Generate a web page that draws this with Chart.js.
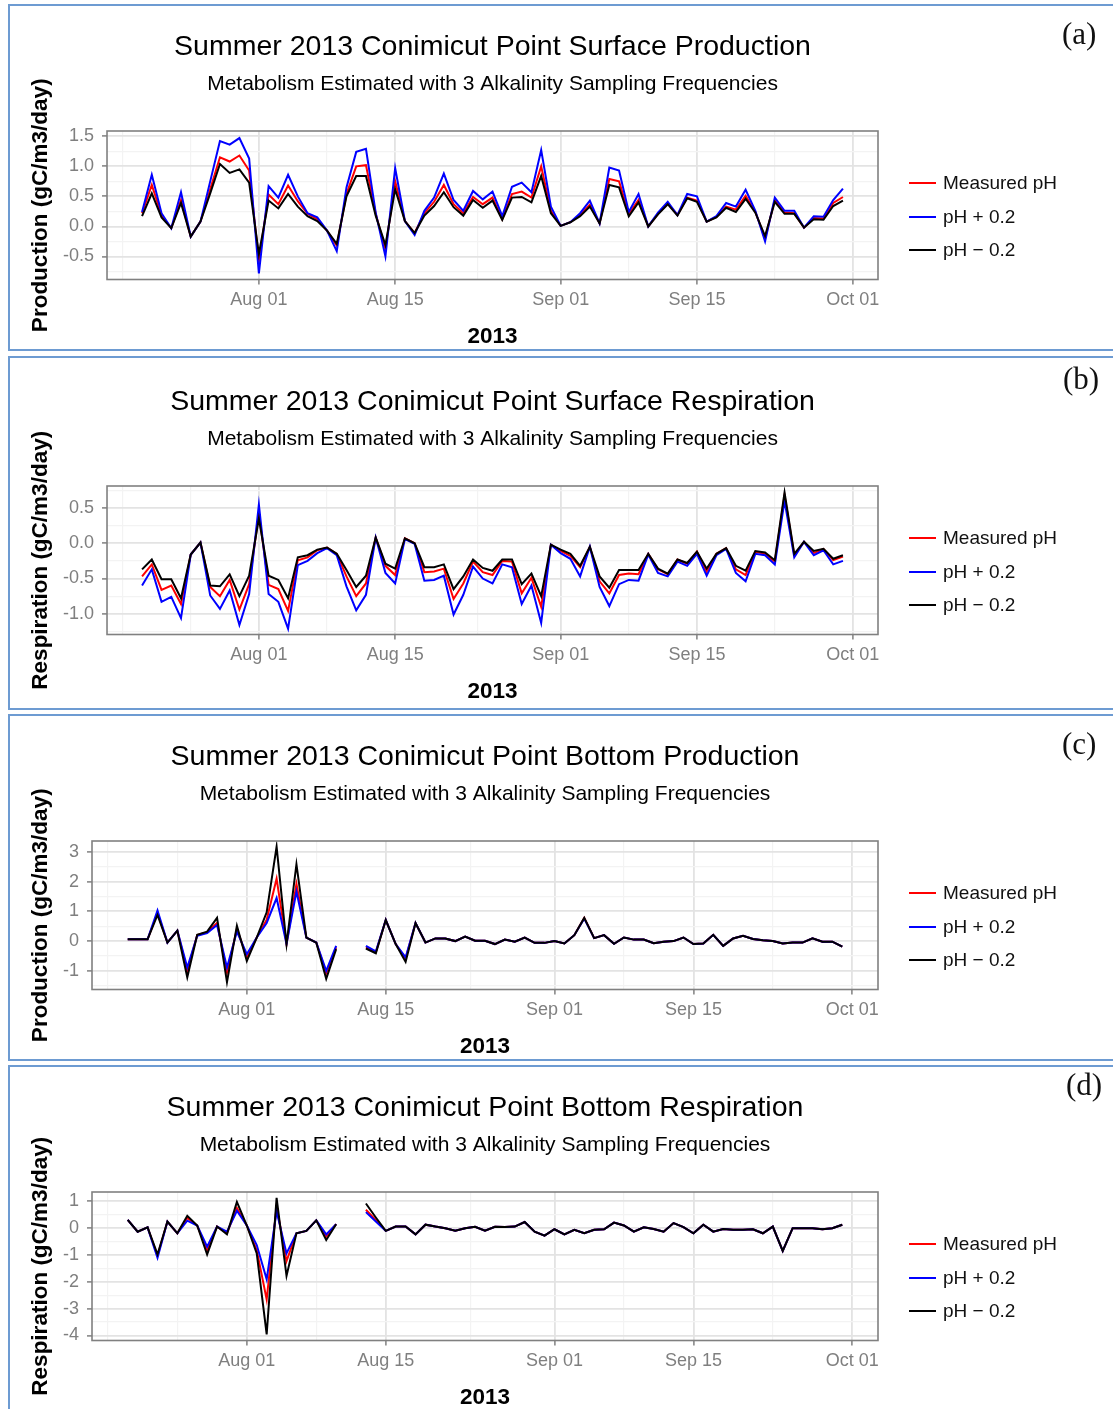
<!DOCTYPE html>
<html>
<head>
<meta charset="utf-8">
<title>Summer 2013 Conimicut Point Metabolism</title>
<script src="https://cdn.jsdelivr.net/npm/chart.js@4.4.1/dist/chart.umd.min.js"></script>
<style>
  html, body { margin: 0; padding: 0; background: #ffffff; }
  body { position: relative; width: 1113px; height: 1409px; overflow: hidden;
         font-family: 'Liberation Sans', Arial, Helvetica, sans-serif; }
  .frame { position: absolute; left: 8px; width: 1125px; border: 2px solid #6d9bd2; box-sizing: border-box; }
  canvas.plot { position: absolute; left: 10px; }
  .legend { position: absolute; left: 909px; width: 200px; }
  .legend .row { position: absolute; left: 0; height: 24px; display: flex; align-items: center; }
  .legend .key { display: inline-block; width: 27px; height: 2px; margin-right: 7px; }
  .legend .txt { font-size: 19px; color: #111; white-space: nowrap; }
  .tag { position: absolute; font-family: 'Liberation Serif', 'DejaVu Serif', serif; font-size: 31px;
         line-height: 31px; color: #111; }
</style>
</head>
<body>
<div class="frame" style="top:4px;height:347px"></div>
<div class="frame" style="top:356px;height:354px"></div>
<div class="frame" style="top:714px;height:347px"></div>
<div class="frame" style="top:1065px;height:400px"></div>

<canvas class="plot" id="chartA" width="1103" height="344" style="top:6px"></canvas>
<canvas class="plot" id="chartB" width="1103" height="344" style="top:361px"></canvas>
<canvas class="plot" id="chartC" width="1103" height="344" style="top:716px"></canvas>
<canvas class="plot" id="chartD" width="1103" height="344" style="top:1067px"></canvas>

<div class="tag" style="left:1062px;top:18px">(a)</div>
<div class="tag" style="left:1063px;top:363px">(b)</div>
<div class="tag" style="left:1062px;top:728px">(c)</div>
<div class="tag" style="left:1066px;top:1069px">(d)</div>

<script>
// ---- Daily estimates, 20 Jul 2013 (day 0) to 30 Sep 2013 (day 72) ----
const firstDay = '2013-07-20';

// x-axis breaks (days since 20 Jul)
const dateBreaks = [12, 26, 43, 57, 73];
const dateLabels = ['Aug 01', 'Aug 15', 'Sep 01', 'Sep 15', 'Oct 01'];
const dateMinorBreaks = [-2, 5, 19, 34.5, 50, 65];

const seriesNames = ['Measured pH', 'pH + 0.2', 'pH \u2212 0.2'];
const seriesColors = ['#ff0000', '#0000ff', '#000000'];

// (a) Surface production
const surfProdMeasured = [0.22,0.69,0.19,-0.03,0.44,-0.17,0.08,0.62,1.15,1.08,1.18,0.93,-0.57,0.53,0.37,0.68,0.42,0.21,0.12,-0.07,-0.32,0.54,1.00,1.02,0.21,-0.38,0.75,0.09,-0.11,0.22,0.41,0.69,0.37,0.22,0.49,0.37,0.48,0.12,0.54,0.58,0.48,1.00,0.26,0.01,0.07,0.19,0.36,0.05,0.79,0.75,0.21,0.44,0.00,0.21,0.38,0.19,0.48,0.43,0.08,0.16,0.33,0.28,0.51,0.24,-0.20,0.44,0.23,0.22,-0.02,0.14,0.13,0.39,0.49];
const surfProdPlus     = [0.24,0.86,0.22,-0.03,0.57,-0.17,0.08,0.75,1.42,1.36,1.47,1.13,-0.78,0.67,0.48,0.86,0.50,0.22,0.15,-0.07,-0.41,0.65,1.24,1.29,0.23,-0.50,0.97,0.09,-0.14,0.26,0.48,0.88,0.44,0.26,0.59,0.45,0.58,0.17,0.66,0.73,0.57,1.27,0.33,0.01,0.07,0.22,0.43,0.05,0.98,0.93,0.24,0.54,0.00,0.23,0.41,0.19,0.54,0.50,0.08,0.17,0.39,0.33,0.61,0.26,-0.25,0.48,0.26,0.26,-0.02,0.17,0.16,0.44,0.63];
const surfProdMinus    = [0.17,0.55,0.15,-0.03,0.39,-0.17,0.08,0.55,1.04,0.89,0.95,0.73,-0.46,0.43,0.30,0.54,0.33,0.17,0.09,-0.07,-0.29,0.50,0.84,0.84,0.18,-0.31,0.62,0.09,-0.11,0.18,0.34,0.57,0.32,0.18,0.44,0.31,0.43,0.11,0.48,0.49,0.40,0.84,0.22,0.01,0.07,0.17,0.33,0.05,0.69,0.65,0.17,0.40,0.00,0.20,0.37,0.18,0.47,0.41,0.08,0.15,0.31,0.24,0.46,0.23,-0.16,0.41,0.21,0.21,-0.02,0.12,0.11,0.34,0.43];

// (b) Surface respiration
const surfRespMeasured = [-0.47,-0.30,-0.66,-0.60,-0.86,-0.16,0.01,-0.62,-0.75,-0.52,-0.94,-0.58,0.42,-0.59,-0.65,-0.96,-0.24,-0.20,-0.10,-0.06,-0.15,-0.47,-0.75,-0.57,0.08,-0.32,-0.45,0.07,0.00,-0.41,-0.40,-0.36,-0.79,-0.57,-0.26,-0.41,-0.45,-0.25,-0.26,-0.71,-0.49,-0.90,-0.02,-0.11,-0.18,-0.34,-0.05,-0.54,-0.71,-0.45,-0.43,-0.44,-0.15,-0.37,-0.44,-0.23,-0.29,-0.12,-0.40,-0.15,-0.07,-0.37,-0.45,-0.12,-0.15,-0.26,0.68,-0.17,0.02,-0.14,-0.08,-0.24,-0.19];
const surfRespPlus     = [-0.60,-0.37,-0.83,-0.76,-1.06,-0.16,0.01,-0.74,-0.93,-0.67,-1.16,-0.72,0.55,-0.72,-0.83,-1.21,-0.31,-0.25,-0.14,-0.07,-0.17,-0.61,-0.95,-0.73,0.08,-0.42,-0.57,0.06,-0.01,-0.53,-0.52,-0.46,-1.01,-0.73,-0.33,-0.50,-0.57,-0.30,-0.34,-0.86,-0.60,-1.13,-0.02,-0.14,-0.22,-0.47,-0.05,-0.62,-0.89,-0.58,-0.52,-0.53,-0.16,-0.42,-0.47,-0.26,-0.32,-0.15,-0.46,-0.17,-0.08,-0.42,-0.54,-0.15,-0.17,-0.30,0.60,-0.20,0.02,-0.17,-0.10,-0.30,-0.25];
const surfRespMinus    = [-0.37,-0.23,-0.51,-0.51,-0.78,-0.16,0.01,-0.60,-0.61,-0.44,-0.75,-0.46,0.35,-0.46,-0.52,-0.78,-0.20,-0.17,-0.09,-0.06,-0.15,-0.38,-0.62,-0.46,0.08,-0.29,-0.36,0.07,0.00,-0.34,-0.34,-0.30,-0.65,-0.47,-0.23,-0.35,-0.39,-0.23,-0.23,-0.58,-0.43,-0.75,-0.02,-0.09,-0.15,-0.32,-0.05,-0.47,-0.63,-0.38,-0.38,-0.38,-0.15,-0.36,-0.43,-0.23,-0.28,-0.12,-0.36,-0.15,-0.07,-0.32,-0.39,-0.11,-0.13,-0.24,0.72,-0.15,0.02,-0.11,-0.08,-0.22,-0.17];

// (c) Bottom production (no estimates on 11-12 Aug)
const botProdMeasured = [0.06,0.06,0.06,0.95,-0.05,0.35,-1.00,0.20,0.30,0.61,-1.06,0.41,-0.55,0.12,0.72,2.10,-0.10,1.93,0.12,-0.05,-1.08,-0.21,null,null,-0.21,-0.38,0.71,-0.10,-0.59,0.61,-0.05,0.09,0.09,0.00,0.15,0.01,0.01,-0.10,0.05,-0.02,0.12,-0.06,-0.06,0.00,-0.08,0.20,0.78,0.10,0.20,-0.09,0.12,0.05,0.05,-0.07,-0.02,0.00,0.12,-0.10,-0.08,0.21,-0.16,0.09,0.18,0.07,0.03,0.00,-0.08,-0.05,-0.05,0.09,-0.02,-0.02,-0.19];
const botProdPlus     = [0.06,0.06,0.06,1.03,-0.05,0.35,-0.89,0.18,0.27,0.54,-0.89,0.32,-0.44,0.12,0.61,1.45,-0.10,1.67,0.12,-0.05,-1.00,-0.16,null,null,-0.16,-0.35,0.71,-0.10,-0.55,0.61,-0.05,0.09,0.09,0.00,0.15,0.01,0.01,-0.10,0.05,-0.02,0.12,-0.06,-0.06,0.00,-0.08,0.20,0.76,0.10,0.20,-0.09,0.12,0.05,0.05,-0.07,-0.02,0.00,0.12,-0.10,-0.08,0.21,-0.16,0.09,0.18,0.07,0.03,0.00,-0.08,-0.05,-0.05,0.09,-0.02,-0.02,-0.19];
const botProdMinus    = [0.06,0.06,0.06,0.88,-0.05,0.35,-1.22,0.21,0.32,0.78,-1.38,0.52,-0.67,0.12,0.97,3.18,-0.10,2.59,0.12,-0.05,-1.27,-0.27,null,null,-0.25,-0.41,0.71,-0.10,-0.70,0.61,-0.05,0.09,0.09,0.00,0.15,0.01,0.01,-0.10,0.05,-0.02,0.12,-0.06,-0.06,0.00,-0.08,0.20,0.78,0.10,0.20,-0.09,0.12,0.05,0.05,-0.07,-0.02,0.00,0.12,-0.10,-0.08,0.21,-0.16,0.09,0.18,0.07,0.03,0.00,-0.08,-0.05,-0.05,0.09,-0.02,-0.02,-0.19];

// (d) Bottom respiration (no estimates on 11-12 Aug)
const botRespMeasured = [0.31,-0.13,0.03,-1.03,0.25,-0.19,0.38,0.10,-0.82,0.06,-0.18,0.75,0.10,-0.82,-2.66,0.82,-1.23,-0.19,-0.10,0.29,-0.31,0.15,null,null,0.69,0.30,-0.10,0.06,0.06,-0.23,0.13,0.06,0.00,-0.09,0.00,0.05,-0.09,0.05,0.04,0.06,0.23,-0.13,-0.28,-0.04,-0.23,-0.06,-0.19,-0.06,-0.04,0.21,0.10,-0.13,0.03,-0.03,-0.13,0.19,0.04,-0.19,0.13,-0.13,-0.03,-0.06,-0.06,-0.04,-0.19,0.06,-0.85,0.00,0.00,0.00,-0.04,0.00,0.13];
const botRespPlus     = [0.31,-0.13,0.03,-1.10,0.25,-0.19,0.28,0.10,-0.69,0.06,-0.13,0.65,0.10,-0.63,-1.91,0.63,-0.94,-0.19,-0.10,0.29,-0.23,0.15,null,null,0.60,0.25,-0.10,0.06,0.06,-0.23,0.13,0.06,0.00,-0.09,0.00,0.05,-0.09,0.05,0.04,0.06,0.23,-0.13,-0.28,-0.04,-0.23,-0.06,-0.19,-0.06,-0.04,0.21,0.10,-0.13,0.03,-0.03,-0.13,0.19,0.04,-0.19,0.13,-0.13,-0.03,-0.06,-0.06,-0.04,-0.19,0.06,-0.85,0.00,0.00,0.00,-0.04,0.00,0.13];
const botRespMinus    = [0.31,-0.13,0.03,-0.98,0.25,-0.19,0.46,0.10,-0.98,0.06,-0.23,0.98,0.10,-0.94,-3.96,1.13,-1.78,-0.19,-0.10,0.29,-0.44,0.15,null,null,0.92,0.40,-0.10,0.06,0.06,-0.23,0.13,0.06,0.00,-0.09,0.00,0.05,-0.09,0.05,0.04,0.06,0.23,-0.13,-0.28,-0.04,-0.23,-0.06,-0.19,-0.06,-0.04,0.21,0.10,-0.13,0.03,-0.03,-0.13,0.19,0.04,-0.19,0.13,-0.13,-0.03,-0.06,-0.06,-0.04,-0.19,0.06,-0.85,0.00,0.00,0.00,-0.04,0.00,0.13];

// y-axis breaks for each panel
const surfProdBreaks = [-0.5, 0, 0.5, 1, 1.5];
const surfProdMinor  = [-0.75, -0.25, 0.25, 0.75, 1.25];
const surfRespBreaks = [-1, -0.5, 0, 0.5];
const surfRespMinor  = [-1.25, -0.75, -0.25, 0.25, 0.75];
const botProdBreaks  = [-1, 0, 1, 2, 3];
const botProdMinor   = [-1.5, -0.5, 0.5, 1.5, 2.5];
const botRespBreaks  = [-4, -3, -2, -1, 0, 1];
const botRespMinor   = [-3.5, -2.5, -1.5, -0.5, 0.5];

const subtitleText = 'Metabolism Estimated with 3 Alkalinity Sampling Frequencies';

// ---- drawing ----
Chart.defaults.font.family = "'Liberation Sans', Arial, Helvetica, sans-serif";
Chart.defaults.color = '#7f7f7f';

const GRID_MAJOR = '#e3e3e3';
const GRID_MINOR = '#f3f3f3';
const AXIS_GREY = '#808080';

// grey frame around the plotting region
const panelFrame = {
  id: 'panelFrame',
  afterDatasetsDraw(chart) {
    const { ctx, chartArea: a } = chart;
    ctx.save();
    ctx.strokeStyle = AXIS_GREY;
    ctx.lineWidth = 1.6;
    ctx.strokeRect(a.left, a.top, a.right - a.left, a.bottom - a.top);
    ctx.restore();
  }
};

function gridStyle(majorSet) {
  const isMajor = c => c.tick && majorSet.has(c.tick.value);
  return {
    color: c => isMajor(c) ? GRID_MAJOR : GRID_MINOR,
    lineWidth: c => isMajor(c) ? 1.8 : 1.2,
    tickColor: c => isMajor(c) ? AXIS_GREY : 'rgba(0,0,0,0)',
    tickLength: 5,
    tickWidth: 1.5,
    drawOnChartArea: true
  };
}

function buildPanel(canvasId, titleText, yTitle, yMin, yMax, yBreaks, yMinor, digits, values) {
  const xMajor = new Set(dateBreaks);
  const yMajor = new Set(yBreaks);
  const order = [2, 1, 0]; // black on top, then blue, then red
  const datasets = values.map((arr, k) => ({
    label: seriesNames[k],
    data: arr.map((v, i) => ({ x: i, y: v })),
    borderColor: seriesColors[k],
    backgroundColor: seriesColors[k],
    borderWidth: 2,
    pointRadius: 0,
    tension: 0,
    spanGaps: false,
    order: order[k]
  }));

  return new Chart(document.getElementById(canvasId), {
    type: 'line',
    data: { datasets },
    plugins: [panelFrame],
    options: {
      responsive: false,
      animation: false,
      devicePixelRatio: 1,
      layout: { padding: { left: 0, right: 235, top: 0, bottom: 0 } },
      plugins: {
        legend: { display: false },
        tooltip: { enabled: false },
        title: {
          display: true, text: titleText, fullSize: false, color: '#000',
          font: { size: 28.5, weight: 'normal' }, padding: { top: 23.9, bottom: 0 }
        },
        subtitle: {
          display: true, text: subtitleText, fullSize: false, color: '#000',
          font: { size: 21, weight: 'normal' }, padding: { top: 7.3, bottom: 34.4 }
        }
      },
      scales: {
        x: {
          type: 'linear', min: -3.6, max: 75.6,
          afterBuildTicks: s => {
            s.ticks = [...dateMinorBreaks, ...dateBreaks].sort((a, b) => a - b).map(v => ({ value: v }));
          },
          ticks: {
            autoSkip: false, maxRotation: 0, padding: 5.2, color: '#7f7f7f', font: { size: 18 },
            callback: v => xMajor.has(v) ? dateLabels[dateBreaks.indexOf(v)] : ''
          },
          grid: gridStyle(xMajor),
          border: { display: false },
          title: {
            display: true, text: '2013', color: '#000',
            font: { size: 22.5, weight: 'bold' }, padding: { top: 6.5, bottom: 0 }
          }
        },
        y: {
          type: 'linear', min: yMin, max: yMax,
          afterBuildTicks: s => {
            s.ticks = [...yMinor, ...yBreaks].sort((a, b) => a - b).map(v => ({ value: v }));
          },
          ticks: {
            autoSkip: false, padding: 8, color: '#7f7f7f', font: { size: 18 },
            callback: v => yMajor.has(v) ? v.toFixed(digits) : ''
          },
          grid: gridStyle(yMajor),
          border: { display: false },
          title: {
            display: true, text: yTitle, color: '#000',
            font: { size: 22.5, weight: 'bold' }, padding: { top: 17.5, bottom: 0.5 }
          }
        }
      }
    }
  });
}

function buildLegend(canvasTop) {
  const box = document.createElement('div');
  box.className = 'legend';
  box.style.top = (canvasTop + 177 - 12) + 'px';
  seriesNames.forEach((name, k) => {
    const row = document.createElement('div');
    row.className = 'row';
    row.style.top = (k * 33.5) + 'px';
    const key = document.createElement('span');
    key.className = 'key';
    key.style.background = seriesColors[k];
    const txt = document.createElement('span');
    txt.className = 'txt';
    txt.textContent = name;
    row.appendChild(key);
    row.appendChild(txt);
    box.appendChild(row);
  });
  document.body.appendChild(box);
}

buildPanel('chartA', 'Summer 2013 Conimicut Point Surface Production', 'Production (gC/m3/day)',
  -0.883, 1.588, surfProdBreaks, surfProdMinor, 1,
  [surfProdMeasured, surfProdPlus, surfProdMinus]);
buildPanel('chartB', 'Summer 2013 Conimicut Point Surface Respiration', 'Respiration (gC/m3/day)',
  -1.293, 0.811, surfRespBreaks, surfRespMinor, 1,
  [surfRespMeasured, surfRespPlus, surfRespMinus]);
buildPanel('chartC', 'Summer 2013 Conimicut Point Bottom Production', 'Production (gC/m3/day)',
  -1.63, 3.37, botProdBreaks, botProdMinor, 0,
  [botProdMeasured, botProdPlus, botProdMinus]);
buildPanel('chartD', 'Summer 2013 Conimicut Point Bottom Respiration', 'Respiration (gC/m3/day)',
  -4.19, 1.35, botRespBreaks, botRespMinor, 0,
  [botRespMeasured, botRespPlus, botRespMinus]);

[6, 361, 716, 1067].forEach(buildLegend);
</script>
</body>
</html>
